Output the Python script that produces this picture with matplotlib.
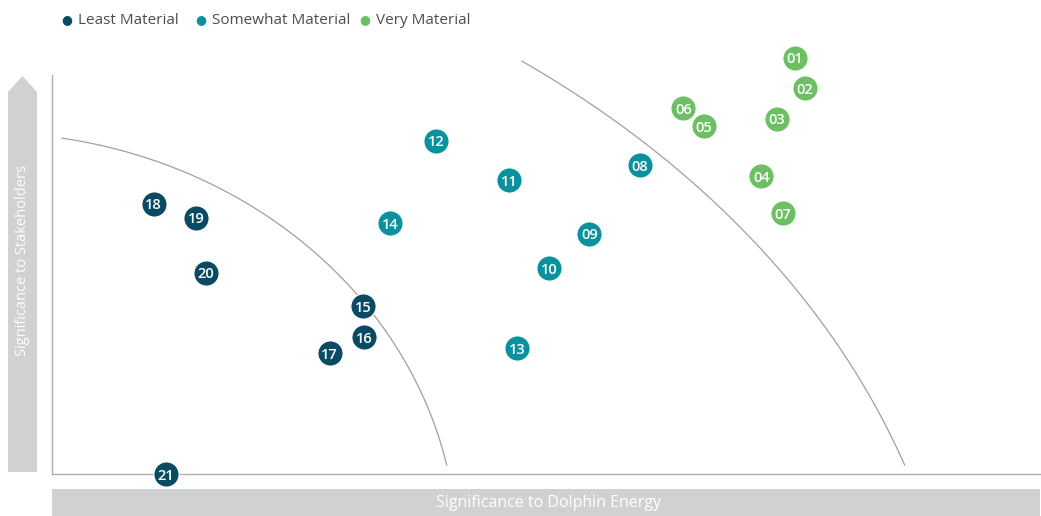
import numpy as np
import matplotlib.pyplot as plt
from matplotlib.patches import Polygon, Rectangle

# topics: id, significance to Dolphin Energy (x), significance to stakeholders (y)
labels = ["01", "02", "03", "04", "05", "06", "07", "08", "09", "10", "11",
          "12", "13", "14", "15", "16", "17", "18", "19", "20", "21"]
x_energy = [75.2, 76.2, 73.4, 71.8, 66.0, 63.9, 74.0, 59.5, 54.4, 50.3, 46.3,
            38.9, 47.1, 34.2, 31.5, 31.6, 28.1, 10.3, 14.6, 15.6, 11.5]
y_stake = [104.3, 96.7, 89.0, 74.7, 87.2, 91.7, 65.4, 77.4, 60.2, 51.6, 73.7,
           83.5, 31.6, 62.9, 42.1, 34.3, 30.3, 67.7, 64.2, 50.4, 0.0]
group = ["Very"] * 7 + ["Somewhat"] * 7 + ["Least"] * 7

groups = ["Least", "Somewhat", "Very"]
group_names = ["Least Material", "Somewhat Material", "Very Material"]
group_colors = {"Least": "#0b4a63", "Somewhat": "#0a919e", "Very": "#6cbf62"}

# boundary arcs: centre x, centre y, radius x, radius y, start deg, end deg
inner_arc = (-6.8, -20.3, 47.85, 105.9, 12.3, 80.6)
outer_arc = (-20.45, -64.2, 112.5, 210.5, 18.4, 52.8)

plt.rcParams['font.family'] = ['Open Sans', 'DejaVu Sans']

fig = plt.figure(figsize=(10.41, 5.16), dpi=100)
W, H = 1041, 516
ax = fig.add_axes([52 / W, 42 / H, 988 / W, 399 / H])
ax.set_xlim(0, 100)
ax.set_ylim(0, 100)

for arc in (inner_arc, outer_arc):
    cx, cy, rx, ry, t1, t2 = arc
    t = np.radians(np.linspace(t1, t2, 200))
    ax.plot(cx + rx * np.cos(t), cy + ry * np.sin(t), color="#a0a0a0", lw=0.9,
            zorder=1, clip_on=False)

for lab, xv, yv, g in zip(labels, x_energy, y_stake, group):
    ax.scatter(xv, yv, s=330, color=group_colors[g], edgecolors="white",
               linewidths=0.8, zorder=5, clip_on=False)
    ax.text(xv, yv - 0.4, lab, color="white", fontsize=10.5, ha="center", va="center",
            fontweight="semibold", zorder=6, clip_on=False)

for s in ["top", "right"]:
    ax.spines[s].set_visible(False)
for s in ["left", "bottom"]:
    ax.spines[s].set_color("#b0b0b0")
    ax.spines[s].set_linewidth(1.0)
ax.set_xticks([])
ax.set_yticks([])

# legend across the top
lx = [67, 201, 365]
for name, g, px in zip(group_names, groups, lx):
    fig.text(px / W, 1 - 20 / H, "\u25cf", color=group_colors[g], fontsize=9,
             ha="center", va="center", family="DejaVu Sans")
    fig.text((px + 11) / W, 1 - 20 / H, name, color="#4a4d52", fontsize=11,
             ha="left", va="center")

# axis arrow and bar
grey = "#d0d1d3"
arrow = Polygon([(8 / W, 1 - 472 / H), (37 / W, 1 - 472 / H), (37 / W, 1 - 92 / H),
                 (22.5 / W, 1 - 76 / H), (8 / W, 1 - 92 / H)],
                closed=True, transform=fig.transFigure, color=grey, lw=0)
fig.patches.append(arrow)
fig.text(22.5 / W, 1 - 261 / H, "Significance to Stakeholders", color="white",
         fontsize=10.5, rotation=90, ha="center", va="center")

bar = Rectangle((52 / W, 0), 988 / W, 27 / H, transform=fig.transFigure,
                color=grey, lw=0)
fig.patches.append(bar)
fig.text(549 / W, 1 - 503 / H, "Significance to Dolphin Energy", color="white",
         fontsize=11.5, ha="center", va="center")

fig.savefig("out.png", dpi=100)
